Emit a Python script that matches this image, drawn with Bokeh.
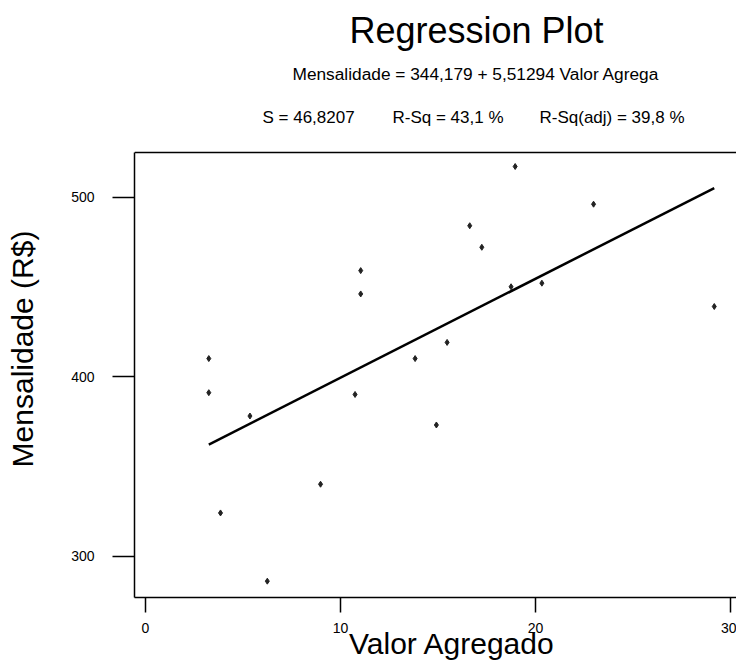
from bokeh.plotting import figure
from bokeh.models import Label, Span, FixedTicker, Range1d
from bokeh.embed import file_html
from bokeh.resources import INLINE

# ---- data ----
valor_agregado = [3.25, 3.25, 3.85, 5.36, 6.25, 8.98, 10.75, 11.04, 11.04, 13.83,
                  14.92, 15.47, 16.63, 17.25, 18.75, 18.96, 20.33, 22.98, 29.17]
mensalidade = [410, 391, 324, 378, 286, 340, 390, 459, 446, 410,
               373, 419, 484, 472, 450, 517, 452, 496, 439]
intercept = 344.179
slope = 5.51294
x_ticks = [0, 10, 20, 30]
y_ticks = [300, 400, 500]

title = "Regression Plot"
equation = "Mensalidade = 344,179 + 5,51294 Valor Agrega"
stat_s = "S = 46,8207"
stat_r = "R-Sq = 43,1 %"
stat_adj = "R-Sq(adj) = 39,8 %"
x_label = "Valor Agregado"
y_label = "Mensalidade (R$)"

FONT = "Liberation Sans"
NB = "\u00a0"
W, H = 736, 665
LEFT, BOTTOM = 134, 68
FRAME_TOP_PX = 152            # where the boxed plot area starts
Y0, Y1 = 276.9, 524.8         # value range of the boxed area
X0, X1 = -0.56, 30.31
px_per_unit = (H - BOTTOM - FRAME_TOP_PX) / (Y1 - Y0)
Y_TOP = Y1 + FRAME_TOP_PX / px_per_unit   # frame extended up to hold the header texts

p = figure(width=W, height=H, output_backend="svg", toolbar_location=None, title=None,
           x_range=Range1d(X0, X1), y_range=Range1d(Y0, Y_TOP),
           min_border_left=LEFT, min_border_top=0, min_border_bottom=BOTTOM,
           min_border_right=0)
p.background_fill_color = "white"
p.border_fill_color = "white"
p.outline_line_color = None
p.grid.visible = False

for ax in (p.xaxis, p.yaxis):
    ax.axis_line_color = "black"
    ax.axis_line_width = 1.5
    ax.major_tick_line_color = "black"
    ax.major_tick_line_width = 1.5
    ax.major_tick_in = 0
    ax.minor_tick_in = 0
    ax.minor_tick_out = 0
    ax.major_label_text_font = FONT
    ax.major_label_text_font_size = "14px"
    ax.major_label_text_color = "black"
    ax.axis_label_text_font = FONT
    ax.axis_label_text_font_size = "30px"
    ax.axis_label_text_font_style = "normal"
    ax.axis_label_text_color = "black"

p.xaxis.ticker = FixedTicker(ticks=x_ticks)
p.yaxis.ticker = FixedTicker(ticks=y_ticks)
p.yaxis.bounds = (Y0, Y1)
p.xaxis.major_tick_out = 15
p.xaxis.major_label_standoff = 10
p.yaxis.major_tick_out = 22
p.yaxis.major_label_standoff = 18

p.xaxis.axis_label = NB * 4 + x_label
p.xaxis.axis_label_standoff = -9
p.yaxis.axis_label = y_label + NB * 12
p.yaxis.axis_label_standoff = 29

# top border of the boxed area
p.add_layout(Span(location=Y1, dimension="width", line_color="black", line_width=1.5))

# data points
p.scatter(valor_agregado, mensalidade, marker="diamond", size=6, color="#222222")

# fitted line
x0, x1 = min(valor_agregado), max(valor_agregado)
p.line([x0, x1], [intercept + slope * x0, intercept + slope * x1],
       line_width=2.5, line_color="black")


def lab(text, X, Y, size, align="left"):
    p.add_layout(Label(x=X - LEFT, y=(H - BOTTOM) - Y, x_units="screen", y_units="screen",
                       text=text, text_font=FONT, text_font_size=size,
                       text_align=align, text_baseline="alphabetic",
                       text_color="black"))


lab(title, 476, 29.5, "36px", align="center")
lab(equation, 292, 73, "17.3px")
lab(stat_s, 262, 117, "17px")
lab(stat_r, 392, 117, "17px")
lab(stat_adj, 539, 117, "17px")

open("out.html", "w").write(file_html(p, INLINE))
